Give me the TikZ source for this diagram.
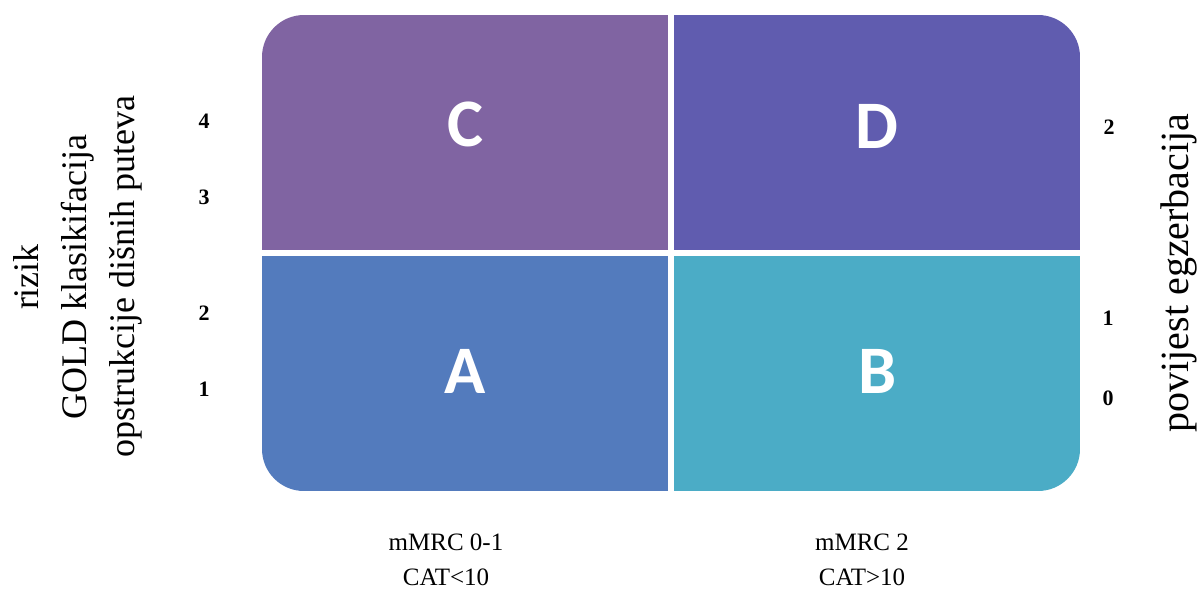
\documentclass[tikz,border=0pt]{standalone}
\usepackage{fontspec}
\setmainfont{Liberation Serif}
\newfontfamily\quadfont{Carlito}
\definecolor{quadC}{HTML}{8064A2}
\definecolor{quadD}{HTML}{605CAF}
\definecolor{quadA}{HTML}{537BBD}
\definecolor{quadB}{HTML}{4BACC6}
\tikzset{
  quad/.style={inner sep=0pt, minimum width=406pt, minimum height=235pt, anchor=north west},
  letter/.style={text=white, font={\quadfont\bfseries\fontsize{68}{72}\selectfont}},
  num/.style={font={\bfseries\fontsize{22}{24}\selectfont}},
  sidetext/.style={rotate=90, align=center},
  bottomtext/.style={align=center, font={\fontsize{25}{35}\selectfont}}
}
\begin{document}
\begin{tikzpicture}[x=1pt,y=-1pt]
  \path[use as bounding box] (0,0) rectangle (1198,590);
  % four fields, outer corners rounded
  \begin{scope}
    \clip[rounded corners=42pt] (262,15) rectangle (1080,491);
    \node[quad, fill=quadC] (C) at (262,15) {};
    \node[quad, fill=quadD] (D) at (674,15) {};
    \node[quad, fill=quadA] (A) at (262,256) {};
    \node[quad, fill=quadB] (B) at (674,256) {};
  \end{scope}
  \node[letter] (lC) at ([yshift=8pt]C.center) {C};
  \node[letter] (lD) at ([yshift=6pt]D.center) {D};
  \node[letter] (lA) at ([yshift=2pt]A.center) {A};
  \node[letter] (lB) at ([yshift=2pt]B.center) {B};
  % routine for ticks
  \node[num] (g4) at (204,121) {4};
  \node[num] (g3) at (204,197) {3};
  \node[num] (g2) at (204,313) {2};
  \node[num] (g1) at (204,389) {1};
  \node[num] (e2) at (1109,127) {2};
  \node[num] (e1) at (1108,318) {1};
  \node[num] (e0) at (1108,398) {0};
  \node[sidetext, font={\fontsize{36}{48}\selectfont}] (gold) at (78,277)
    {rizik\\GOLD klasikifacija\\opstrukcije dišnih puteva};
  \node[sidetext, font={\fontsize{40}{44}\selectfont}] (exac) at (1179,273) {povijest egzerbacija};
  \node[bottomtext] (mrc1) at (446,560) {mMRC 0-1\\CAT<10};
  \node[bottomtext] (mrc2) at (862,560) {mMRC 2\\CAT>10};
\end{tikzpicture}
\end{document}
